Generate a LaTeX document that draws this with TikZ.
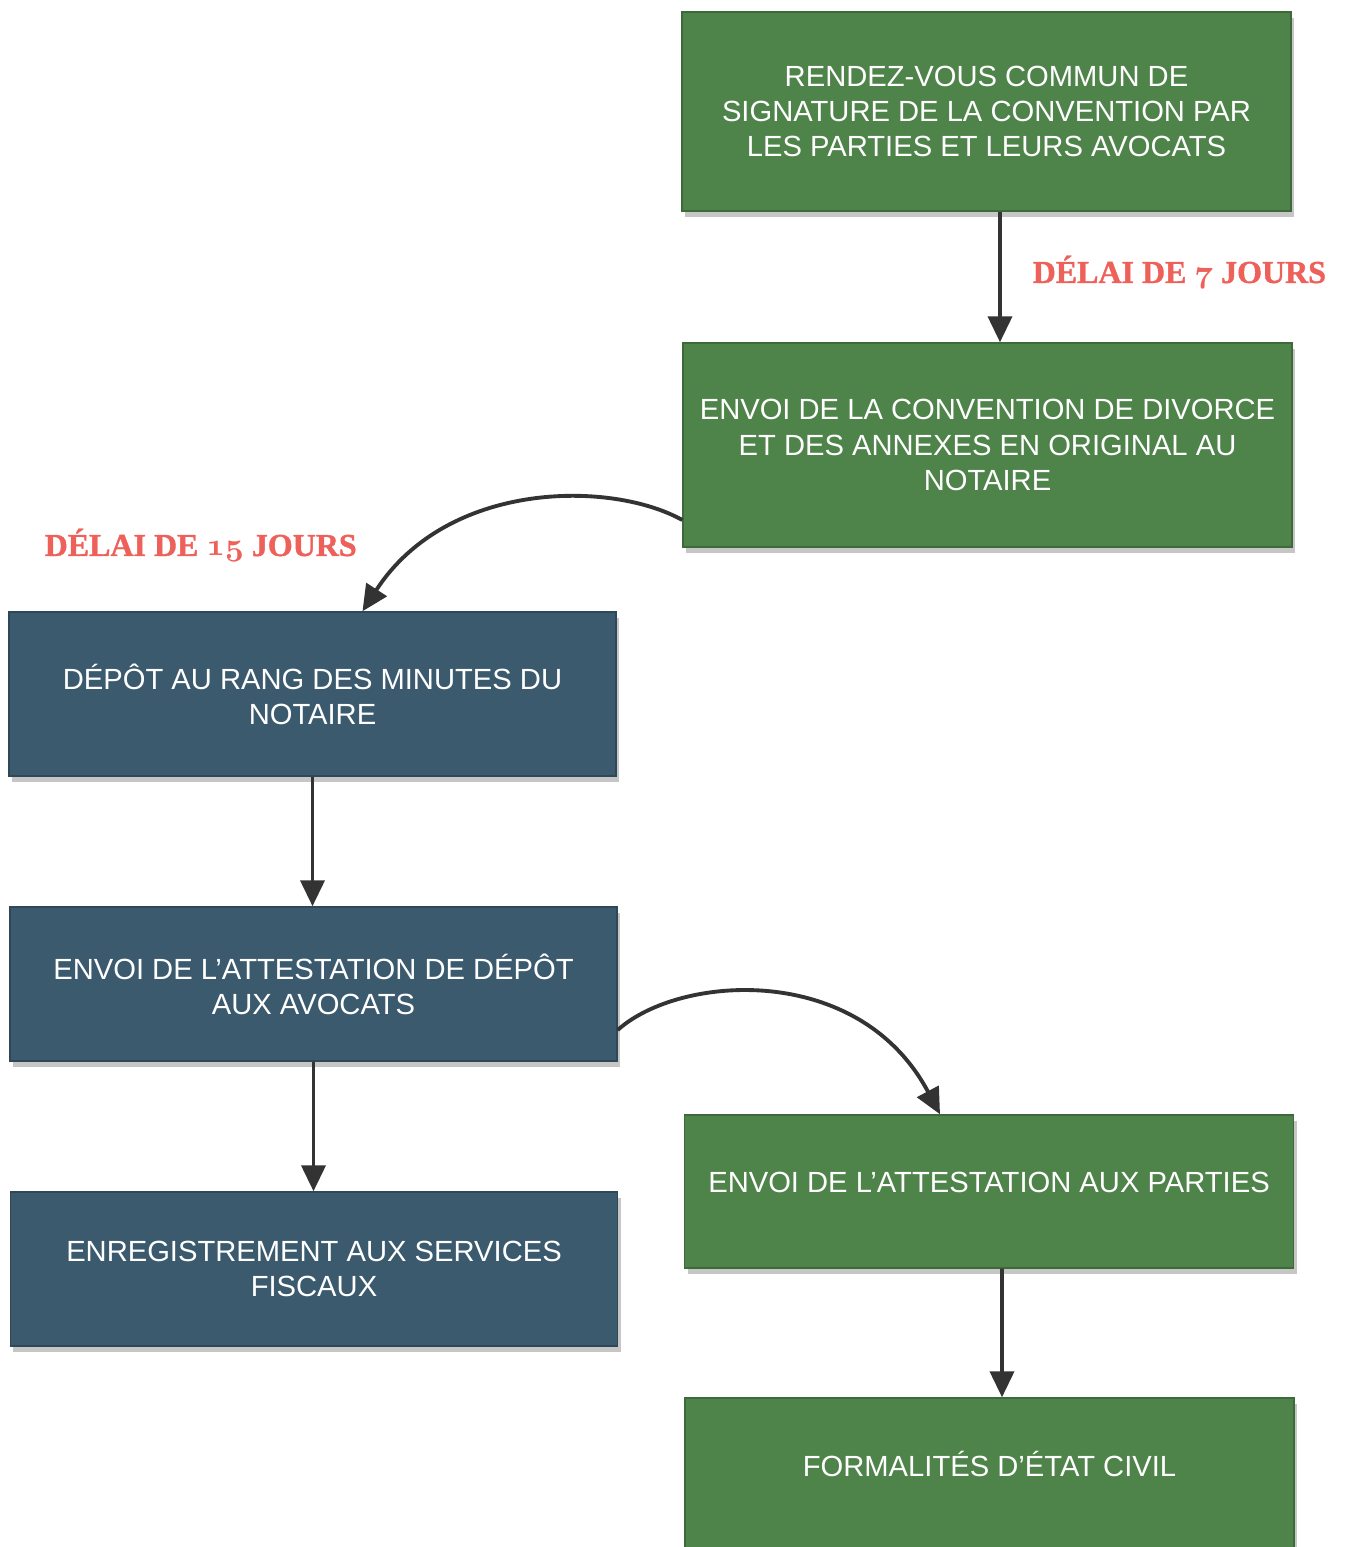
\documentclass[tikz,border=0pt]{standalone}
\usepackage{fontspec}
\newfontfamily\boxfont{Liberation Sans}
\newfontfamily\delaifont[BoldFeatures={FakeBold=1.2}]{Liberation Serif}
\usetikzlibrary{arrows.meta,shadows}

\definecolor{boxgreen}{HTML}{4E8349}
\definecolor{boxblue}{HTML}{3B5A6D}
\definecolor{delaired}{HTML}{EE605A}
\definecolor{arrowgray}{HTML}{333333}

% old-style digits for the delays
\newcommand{\osnum}[1]{{\usefont{OML}{cmm}{b}{it}#1}}

\begin{document}
\begin{tikzpicture}[
    box/.style={minimum width=6.07cm, align=center, text=white, inner sep=0pt,
        font=\boxfont\fontsize{8.3}{10}\selectfont,
        drop shadow={shadow xshift=0.03cm, shadow yshift=-0.06cm, opacity=0.45}},
    greenbox/.style={box, fill=boxgreen, draw=boxgreen!80!black, minimum width=6.09cm},
    bluebox/.style={box, fill=boxblue, draw=boxblue!80!black},
    delai/.style={text=delaired, inner sep=0pt,
        font=\delaifont\bfseries\fontsize{9.1}{11}\selectfont},
    flow/.style={-{Triangle[width=0.24cm,length=0.26cm]}, draw=arrowgray, line width=1.1pt}
]
    \useasboundingbox (0,0) rectangle (13.46,15.47);

    % Right column
    \node[greenbox, minimum height=1.99cm] (rdv) at (9.865,14.355)
        {RENDEZ-VOUS COMMUN DE\\SIGNATURE DE LA CONVENTION PAR\\LES PARTIES ET LEURS AVOCATS};
    \node[greenbox, minimum height=2.04cm] (envoi) at (9.875,11.02)
        {ENVOI DE LA CONVENTION DE DIVORCE\\ET DES ANNEXES EN ORIGINAL AU\\NOTAIRE};

    % Left column
    \node[bluebox, minimum height=1.64cm] (depot) at (3.125,8.53)
        {DÉPÔT AU RANG DES MINUTES DU\\NOTAIRE};
    \node[bluebox, minimum height=1.54cm] (attest) at (3.135,5.63)
        {ENVOI DE L’ATTESTATION DE DÉPÔT\\AUX AVOCATS};
    \node[bluebox, minimum height=1.54cm] (enreg) at (3.14,2.78)
        {ENREGISTREMENT AUX SERVICES\\FISCAUX};

    % Bottom right
    \node[greenbox, minimum height=1.53cm] (parties) at (9.89,3.555)
        {\raisebox{0.18cm}{ENVOI DE L’ATTESTATION AUX PARTIES}};
    \node[greenbox, minimum height=1.54cm] (etatcivil) at (9.895,0.72)
        {\raisebox{0.22cm}{FORMALITÉS D’ÉTAT CIVIL}};

    % Delays
    \node[delai, anchor=base west] (delai7) at (10.32,12.64) {DÉLAI DE \osnum{7} JOURS};
    \node[delai, anchor=base west] (delai15) at (0.44,9.91) {DÉLAI DE \osnum{15} JOURS};

    % Arrows
    \draw[flow] ([xshift=0.135cm]rdv.south) -- ([xshift=0.125cm]envoi.north);
    \draw[flow] ([yshift=-0.75cm]envoi.west) to[out=151, in=57, out distance=0.82cm, in distance=1.56cm]
        ([xshift=0.5cm]depot.north);
    \draw[flow] (depot.south) -- (depot.south |- attest.north);
    \draw[flow] (attest.south) -- (attest.south |- enreg.north);
    \draw[flow] ([yshift=-0.46cm]attest.east) to[out=42, in=118, out distance=0.83cm, in distance=1.73cm]
        ([xshift=-0.49cm]parties.north);
    \draw[flow] ([xshift=0.13cm]parties.south) -- ([xshift=0.125cm]etatcivil.north);
\end{tikzpicture}
\end{document}
